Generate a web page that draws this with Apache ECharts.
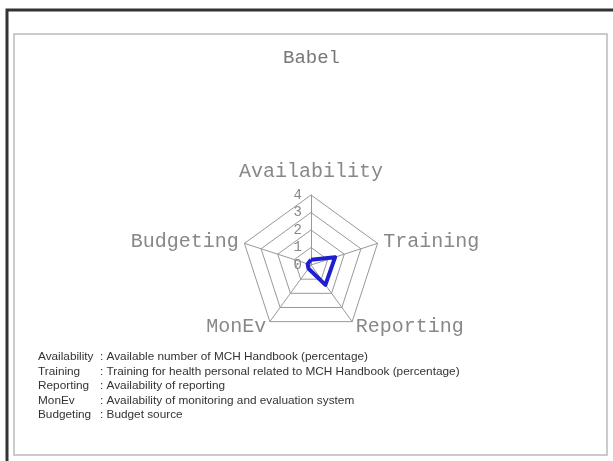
<!DOCTYPE html>
<html>
<head>
<meta charset="utf-8">
<script src="https://cdn.jsdelivr.net/npm/echarts@6/dist/echarts.min.js"></script>
<style>
  html, body { margin: 0; padding: 0; background: #fff; }
  #chart { width: 613px; height: 461px; }
</style>
</head>
<body>
<div id="chart"></div>
<script>
// indicators (axes) of the radar; echarts lays them out counter-clockwise from the top
var indicators = ['Availability', 'Budgeting', 'MonEv', 'Reporting', 'Training'];
var axisMax = 4;
// Babel values, same order as indicators
var babelValues = [0.3, 0.2, 0.25, 1.4, 1.45];
// explanation lines under the chart
var legendNames = ['Availability', 'Training', 'Reporting', 'MonEv', 'Budgeting'];
var legendDescs = [
    ': Available number of MCH Handbook (percentage)',
    ': Training for health personal related to MCH Handbook (percentage)',
    ': Availability of reporting',
    ': Availability of monitoring and evaluation system',
    ': Budget source'
];

var myChart = echarts.init(document.getElementById('chart'));

var indicatorOpt = indicators.map(function (name, i) {
    var item = { name: name, min: 0, max: axisMax };
    if (i === 0) {
        // only the top axis carries the 0..4 labels
        item.axisLabel = {
            show: true,
            color: '#888',
            fontFamily: 'Liberation Mono',
            fontSize: 14,
            margin: 9
        };
    }
    return item;
});

var graphics = [
    { type: 'rect', shape: { x: 7, y: 10, width: 620, height: 470 },
      style: { fill: 'none', stroke: '#333', lineWidth: 3 }, silent: true },
    { type: 'rect', shape: { x: 14, y: 34, width: 593, height: 421 },
      style: { fill: 'none', stroke: '#bbb', lineWidth: 1.5 }, silent: true }
];
legendNames.forEach(function (n, i) {
    graphics.push({ type: 'text', x: 38, y: 351 + i * 14.5,
        style: { text: n, fill: '#333', font: '11.8px "Liberation Sans"' }, silent: true });
    graphics.push({ type: 'text', x: 100, y: 351 + i * 14.5,
        style: { text: legendDescs[i], fill: '#333', font: '11.8px "Liberation Sans"' }, silent: true });
});

var option = {
    backgroundColor: '#fff',
    animation: false,
    title: {
        text: 'Babel',
        left: 278,
        top: 43,
        textStyle: { color: '#777', fontFamily: 'Liberation Mono', fontSize: 19, fontWeight: 'normal' }
    },
    graphic: graphics,
    radar: {
        center: [311, 265],
        radius: 70,
        startAngle: 90,
        shape: 'polygon',
        splitNumber: 4,
        indicator: indicatorOpt,
        nameGap: 6,
        axisName: {
            color: '#888',
            fontFamily: 'Liberation Mono',
            fontSize: 20,
            formatter: function (name) {
                return name === 'Availability' ? '{top|' + name + '}' : name;
            },
            rich: {
                top: { color: '#888', fontFamily: 'Liberation Mono', fontSize: 20, padding: [0, 0, 7, 0] }
            }
        },
        axisLine: { lineStyle: { color: '#999', width: 1 } },
        splitLine: { lineStyle: { color: '#999', width: 1 } },
        splitArea: { show: false },
        axisTick: { show: false },
        axisLabel: { show: false }
    },
    series: [{
        type: 'radar',
        symbol: 'none',
        lineStyle: { color: '#1f1fd0', width: 4 },
        data: [{ value: babelValues, name: 'Babel' }]
    }]
};

myChart.setOption(option);
</script>
</body>
</html>
